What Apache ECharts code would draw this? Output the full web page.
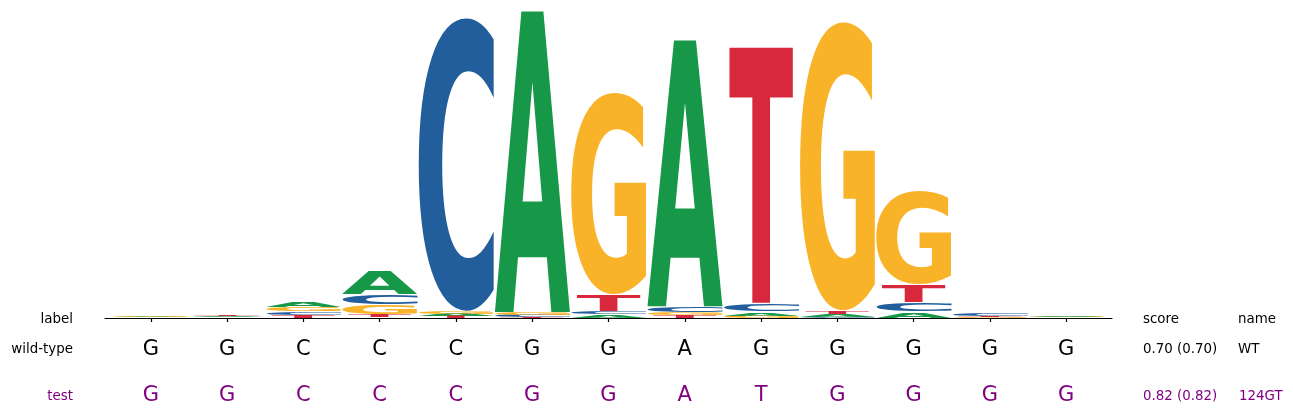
<!DOCTYPE html>
<html>
<head>
<meta charset="utf-8">
<title>sequence logo</title>
<script src="https://cdn.jsdelivr.net/npm/echarts@6/dist/echarts.min.js"></script>
<style>
    html, body { margin: 0; padding: 0; background: #fff; }
    #main { width: 1293px; height: 415px; }
</style>
</head>
<body>
<div id="main"></div>
<script>
// letter heights per position (bits-ish units)
var bases = ['A', 'C', 'G', 'T'];
var heightA = [0.006, 0.008, 0.063, 0.24, 0.022, 3.02, 0.03, 2.67, 0.04, 0.02, 0.06, 0.004, 0.012];
var heightC = [0.004, 0.003, 0.035, 0.11, 2.945, 0.02, 0.033, 0.06, 0.07, 0.01, 0.093, 0.02, 0.003];
var heightG = [0.006, 0.005, 0.05, 0.10, 0.025, 0.025, 2.03, 0.033, 0.02, 2.90, 0.95, 0.008, 0.006];
var heightT = [0.002, 0.008, 0.025, 0.03, 0.018, 0.01, 0.17, 0.02, 2.58, 0.04, 0.18, 0.01, 0.002];

// sequences shown under the logo
var wildType = ['G', 'G', 'C', 'C', 'C', 'G', 'G', 'A', 'G', 'G', 'G', 'G', 'G'];
var testSeq  = ['G', 'G', 'C', 'C', 'C', 'G', 'G', 'A', 'T', 'G', 'G', 'G', 'G'];
var rowLabels = ['wild-type', 'test'];
var rowScores = ['0.70 (0.70)', '0.82 (0.82)'];
var rowNames = ['WT', '124GT'];
var headerLabels = ['label', 'score', 'name'];

var rowColors = ['#000000', '#800080'];
var baseColors = { A: '#179848', C: '#225E9C', G: '#F8B328', T: '#D8283B' };
// T is drawn a bit narrower than the column, like the original
var baseWidth = { A: 0.99, C: 0.99, G: 0.99, T: 0.84 };

var glyphFont = 'bold 200px "DejaVu Sans"';
var ctx = document.createElement('canvas').getContext('2d');
function measure(font, ch) {
    ctx.font = font;
    ctx.textBaseline = 'middle';
    ctx.textAlign = 'left';
    var m = ctx.measureText(ch);
    return { l: m.actualBoundingBoxLeft, r: m.actualBoundingBoxRight,
             a: m.actualBoundingBoxAscent, d: m.actualBoundingBoxDescent };
}
var boxes = {};
bases.forEach(function (b) { boxes[b] = measure(glyphFont, b); });
// y of the "middle" line for a given alphabetic baseline
function midFor(baseline, size) {
    return baseline - measure(size + 'px "DejaVu Sans"', 'H').d;
}

// stack letters, smallest at the bottom
var heights = { A: heightA, C: heightC, G: heightG, T: heightT };
var stackData = [];
for (var i = 0; i < heightA.length; i++) {
    var col = bases.map(function (b, k) { return [k, heights[b][i]]; });
    col.sort(function (p, q) { return p[1] - q[1]; });
    var floor = 0;
    col.forEach(function (c) {
        stackData.push([i, floor, floor + c[1], c[0]]);
        floor += c[1];
    });
}

var seqData = [];
wildType.forEach(function (c, i) { seqData.push([i, 0, c]); });
testSeq.forEach(function (c, i) { seqData.push([i, 1, c]); });

var seqBaseline = [355, 400.5];
var seqSize = 21;
var labelSize = 13.4;
var labelBaseline = [353, 399.5];
var headerBaseline = 322.5;

function renderGlyph(params, api) {
    var ch = bases[api.value(3)];
    var half = baseWidth[ch] / 2;
    var p0 = api.coord([api.value(0) - half, api.value(1)]);
    var p1 = api.coord([api.value(0) + half, api.value(2)]);
    var bottom = p0[1], top = p1[1];
    if (bottom - top > 2.5) { bottom -= 0.5; top += 0.5; }
    var h = bottom - top;
    if (h <= 0.05) return;
    var w = p1[0] - p0[0];
    var b = boxes[ch];
    var sx = w / (b.l + b.r), sy = h / (b.a + b.d);
    return {
        type: 'text',
        x: p0[0] + b.l * sx,
        y: bottom - b.d * sy,
        scaleX: sx,
        scaleY: sy,
        style: {
            text: ch, font: glyphFont, fill: baseColors[ch],
            align: 'left', verticalAlign: 'middle',
            textAlign: 'left', textVerticalAlign: 'middle'
        }
    };
}

function renderSeq(params, api) {
    var row = api.value(1);
    var x = api.coord([api.value(0), 0])[0];
    return {
        type: 'text',
        x: x,
        y: midFor(seqBaseline[row], seqSize),
        style: {
            text: seqData[params.dataIndex][2],
            font: seqSize + 'px "DejaVu Sans"',
            fill: rowColors[row],
            align: 'center', verticalAlign: 'middle',
            textAlign: 'center', textVerticalAlign: 'middle'
        }
    };
}

function txt(str, x, baseline, color, align) {
    return {
        type: 'text', x: x, y: midFor(baseline, labelSize),
        style: {
            text: str, font: labelSize + 'px "DejaVu Sans"', fill: color,
            align: align, verticalAlign: 'middle',
            textAlign: align, textVerticalAlign: 'middle'
        }
    };
}

var graphics = [
    txt(headerLabels[0], 73, headerBaseline, '#000', 'right'),
    txt(headerLabels[1], 1143, headerBaseline, '#000', 'left'),
    txt(headerLabels[2], 1238, headerBaseline, '#000', 'left')
];
rowLabels.forEach(function (s, r) {
    graphics.push(txt(s, 73, labelBaseline[r], rowColors[r], 'right'));
    graphics.push(txt(rowScores[r], 1143, labelBaseline[r], rowColors[r], 'left'));
    graphics.push(txt(rowNames[r], r === 0 ? 1238 : 1239, labelBaseline[r], rowColors[r], 'left'));
});

var chart = echarts.init(document.getElementById('main'));
chart.setOption({
    animation: false,
    grid: { left: 105, right: 181, top: 0, bottom: 97, containLabel: false },
    xAxis: {
        type: 'value', min: -0.6, max: 12.6,
        splitLine: { show: false },
        axisLine: { show: true, onZero: false, lineStyle: { color: '#000', width: 1.2 } },
        axisTick: { show: true, length: 4, lineStyle: { color: '#000', width: 1.2 },
                    customValues: wildType.map(function (c, i) { return i; }) },
        axisLabel: { show: false }
    },
    yAxis: {
        type: 'value', min: 0, max: 3.18, show: false,
        splitLine: { show: false }
    },
    graphic: graphics,
    series: [
        { type: 'custom', renderItem: renderGlyph, data: stackData, clip: false,
          encode: { x: 0, y: [1, 2] } },
        { type: 'custom', renderItem: renderSeq, data: seqData, clip: false,
          encode: { x: 0 } }
    ]
});
</script>
</body>
</html>
